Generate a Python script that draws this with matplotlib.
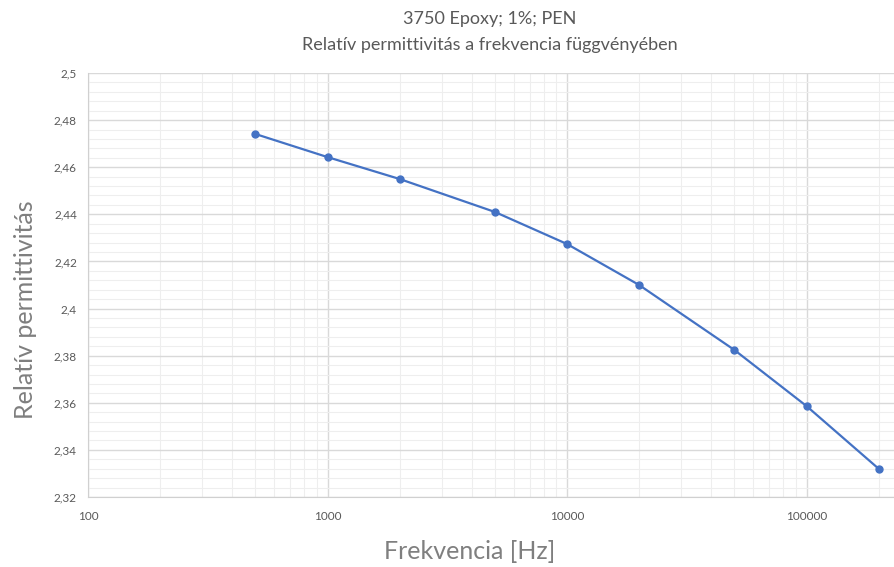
import numpy as np
import matplotlib.pyplot as plt
from matplotlib.ticker import FixedLocator, MultipleLocator, NullFormatter

plt.rcParams['font.family'] = ['Lato', 'DejaVu Sans']

# frequency (Hz) and relative permittivity
freq = [500, 1000, 2000, 5000, 10000, 20000, 50000, 100000, 200000]
eps_r = [2.4741, 2.4643, 2.4550, 2.4410, 2.4274, 2.4100, 2.3824, 2.3586, 2.3320]

x_ticks = [100, 1000, 10000, 100000]
x_labels = ['100', '1000', '10000', '100000']
y_ticks = [2.32, 2.34, 2.36, 2.38, 2.40, 2.42, 2.44, 2.46, 2.48, 2.50]
y_labels = ['2,32', '2,34', '2,36', '2,38', '2,4', '2,42', '2,44', '2,46', '2,48', '2,5']

grey = '#595959'
light_grey = '#7f7f7f'
blue = '#4472C4'

fig = plt.figure(figsize=(8.94, 5.67), dpi=100)
ax = fig.add_axes([88 / 894, 1 - 497 / 567, 1 - 88 / 894, 424 / 567])

ax.plot(freq, eps_r, color=blue, lw=1.6, marker='o', ms=5, zorder=3, clip_on=False)

ax.set_xscale('log')
ax.set_xlim(100, 231800)
ax.set_ylim(2.32, 2.5)

ax.xaxis.set_major_locator(FixedLocator(x_ticks))
ax.set_xticklabels(x_labels)
minor_x = [m * 10 ** d for d in range(2, 6) for m in range(2, 10)]
ax.xaxis.set_minor_locator(FixedLocator(minor_x))
ax.xaxis.set_minor_formatter(NullFormatter())

ax.set_yticks(y_ticks)
ax.set_yticklabels(y_labels)
ax.yaxis.set_minor_locator(MultipleLocator(0.004))

ax.grid(which='major', color='#d9d9d9', lw=1.0)
ax.grid(which='minor', color='#eeeeee', lw=0.8)
ax.set_axisbelow(True)

for side in ['top', 'right']:
    ax.spines[side].set_visible(False)
for side in ['left', 'bottom']:
    ax.spines[side].set_color('#d0d0d0')
ax.tick_params(which='both', length=0, colors=grey, labelsize=8.5)
ax.tick_params(axis='x', pad=10)
ax.tick_params(axis='y', pad=8)

fig.text(0.548, 0.967, '3750 Epoxy; 1%; PEN', ha='center', va='center', fontsize=13, color=grey)
fig.text(0.548, 0.921, 'Relatív permittivitás a frekvencia függvényében', ha='center', va='center',
         fontsize=13, color=grey)
fig.text(0.028, 0.453, 'Relatív permittivitás', rotation=90, ha='center', va='center',
         fontsize=18, color=light_grey)
fig.text(0.525, 0.028, 'Frekvencia [Hz]', ha='center', va='center', fontsize=18, color=light_grey)

fig.savefig('out.png', dpi=100)
